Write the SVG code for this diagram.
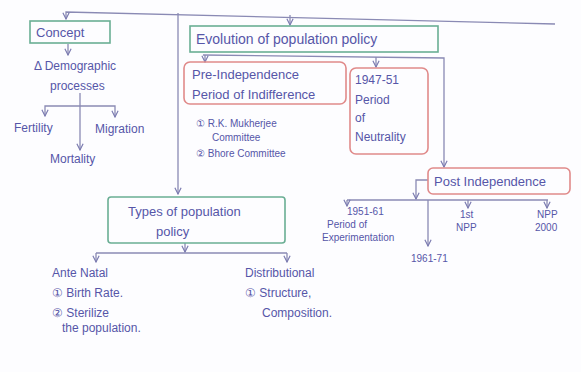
<svg xmlns="http://www.w3.org/2000/svg" width="581" height="372" viewBox="0 0 581 372">
<defs>
<marker id="ah" viewBox="0 0 10 10" refX="9" refY="5" markerWidth="6" markerHeight="6" orient="auto-start-reverse">
<path d="M1,1 L9,5 L1,9" fill="none" stroke="#7a7ab0" stroke-width="1.5"/>
</marker>
<style>
.t{font-family:"Liberation Sans",Arial,sans-serif;font-size:12px;fill:#5656a8}
.s{font-size:10px}
.g{fill:none;stroke:#6aae94;stroke-width:1.6}
.r{fill:none;stroke:#e08a8a;stroke-width:1.6}
.c{fill:none;stroke:#8a8ab4;stroke-width:1.3}
.a{marker-end:url(#ah)}
</style>
</defs>
<rect width="581" height="372" fill="#fdfdff"/>
<g id="connectors">
<path class="c a" d="M555,24 L66,12 L66,19"/>
<path class="c a" d="M178,13 L178,194"/>
<path class="c a" d="M290,15 L290,25"/>
<path class="c a" d="M203,55 L444,58 L444,167"/>
<path class="c a" d="M205,55 L205,62"/>
<path class="c a" d="M376,57 L376,67"/>
<path class="c a" d="M68,44 L68,55"/>
<path class="c" d="M80,93 L80,106"/>
<path class="c a" d="M80,106 L45,106 L45,116"/>
<path class="c a" d="M80,106 L115,106 L115,117"/>
<path class="c a" d="M80,106 L80,150"/>
<path class="c a" d="M428,180 L416,180 L416,199"/>
<path class="c" d="M347,200 L548,200"/>
<path class="c a" d="M347,200 L347,206"/>
<path class="c a" d="M428,200 L428,246"/>
<path class="c a" d="M468,200 L468,208"/>
<path class="c a" d="M547,200 L547,208"/>
<path class="c a" d="M185,243 L185,252"/>
<path class="c" d="M96,253 L287,253"/>
<path class="c a" d="M96,253 L96,262"/>
<path class="c a" d="M287,253 L287,262"/>
</g>
<g id="concept">
<rect class="g" x="30" y="21" width="80" height="22"/>
<text class="t" x="36" y="37" style="font-size:13px">Concept</text>
</g>
<g id="demographic">
<text class="t" x="34" y="70">Δ Demographic</text>
<text class="t" x="50" y="90">processes</text>
</g>
<g id="fertility"><text class="t" x="14" y="132">Fertility</text></g>
<g id="migration"><text class="t" x="95" y="133">Migration</text></g>
<g id="mortality"><text class="t" x="50" y="163">Mortality</text></g>
<g id="evolution">
<rect class="g" x="190" y="26" width="248" height="26"/>
<text class="t" x="196" y="44" style="font-size:14px">Evolution of population policy</text>
</g>
<g id="pre-independence">
<rect class="r" x="184" y="62" width="162" height="42" rx="6"/>
<text class="t" x="192" y="79" style="font-size:13px">Pre-Independence</text>
<text class="t" x="192" y="99" style="font-size:13px">Period of Indifference</text>
</g>
<g id="committees">
<text class="t s" x="196" y="127">① R.K. Mukherjee</text>
<text class="t s" x="212" y="141">Committee</text>
<text class="t s" x="196" y="157">② Bhore Committee</text>
</g>
<g id="neutrality">
<rect class="r" x="350" y="68" width="78" height="86" rx="6"/>
<text class="t" x="355" y="84">1947-51</text>
<text class="t" x="355" y="104">Period</text>
<text class="t" x="355" y="122">of</text>
<text class="t" x="355" y="141">Neutrality</text>
</g>
<g id="post-independence">
<rect class="r" x="428" y="168" width="142" height="26" rx="5"/>
<text class="t" x="434" y="186" style="font-size:13px">Post Independence</text>
</g>
<g id="experimentation">
<text class="t s" x="347" y="215">1951-61</text>
<text class="t s" x="327" y="228">Period of</text>
<text class="t s" x="322" y="241">Experimentation</text>
</g>
<g id="y1961"><text class="t s" x="411" y="262">1961-71</text></g>
<g id="npp1">
<text class="t s" x="460" y="218">1st</text>
<text class="t s" x="456" y="231">NPP</text>
</g>
<g id="npp2000">
<text class="t s" x="537" y="218">NPP</text>
<text class="t s" x="535" y="231">2000</text>
</g>
<g id="types">
<rect class="g" x="108" y="197" width="177" height="46" rx="3"/>
<text class="t" x="128" y="216" style="font-size:13px">Types of population</text>
<text class="t" x="156" y="236" style="font-size:13px">policy</text>
</g>
<g id="antenatal">
<text class="t" x="52" y="277">Ante Natal</text>
<text class="t" x="52" y="297">① Birth Rate.</text>
<text class="t" x="52" y="317">② Sterilize</text>
<text class="t" x="62" y="332">the population.</text>
</g>
<g id="distributional">
<text class="t" x="245" y="277">Distributional</text>
<text class="t" x="245" y="297">① Structure,</text>
<text class="t" x="262" y="317">Composition.</text>
</g>
</svg>
